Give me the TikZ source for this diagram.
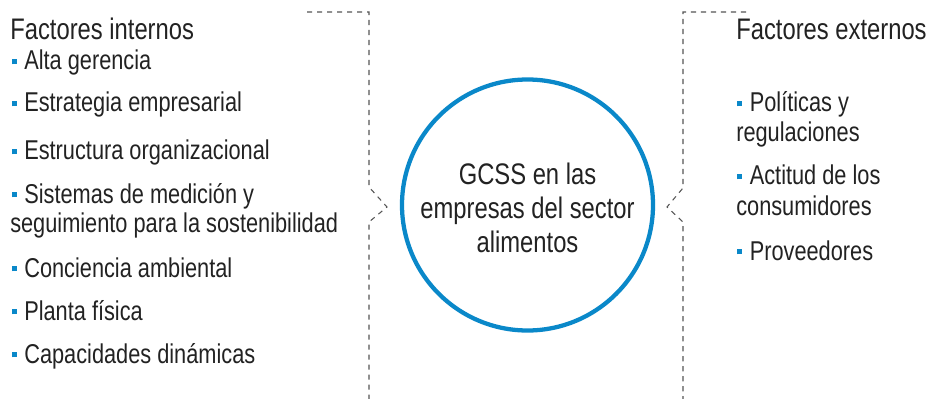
\documentclass[tikz,border=0pt]{standalone}
\usepackage{fontspec}
\setmainfont[FakeStretch=0.80]{Liberation Sans}
\definecolor{gcblue}{HTML}{0A88C9}
\definecolor{txt}{HTML}{222222}
\definecolor{dash}{HTML}{555555}
\newcommand\bul{{\color{gcblue}\rule[4.3pt]{3.9pt}{4.2pt}}\hspace{5.5pt}}
\begin{document}
\begin{tikzpicture}[x=0.75pt,y=-0.75pt,
  title/.style={anchor=base west,inner sep=0pt,text=txt,font=\fontsize{22.3pt}{26pt}\selectfont},
  item/.style={anchor=base west,inner sep=0pt,text=txt,font=\fontsize{20.4pt}{24pt}\selectfont},
  ctext/.style={anchor=base,inner sep=0pt,text=txt,font=\fontsize{22.3pt}{26pt}\selectfont},
  bracket/.style={draw=dash,line width=0.8pt,dash pattern=on 3.8pt off 3.7pt}]
\useasboundingbox (0,0) rectangle (931,399);
% circle
\node[circle,draw=gcblue,line width=3.2pt,minimum size=251*0.75pt,inner sep=0pt] (c) at (527.5,205) {};
\node[ctext] (c1) at (527.5,185) {GCSS en las};
\node[ctext] (c2) at (527.5,218) {empresas del sector};
\node[ctext] (c3) at (527.5,252) {alimentos};
% left texts
\node[title] (ti) at (10,40) {Factores internos};
\node[item] (i1) at (11.5,70) {\bul Alta gerencia};
\node[item] (i2) at (11.5,112) {\bul Estrategia empresarial};
\node[item] (i3) at (11.5,160) {\bul Estructura organizacional};
\node[item] (i4) at (11.5,203) {\bul Sistemas de medición y};
\node[item] (i4b) at (10,232) {seguimiento para la sostenibilidad};
\node[item] (i5) at (11.5,277) {\bul Conciencia ambiental};
\node[item] (i6) at (11.5,320) {\bul Planta física};
\node[item] (i7) at (11.5,363) {\bul Capacidades dinámicas};
% right texts
\node[title] (te) at (736,40) {Factores externos};
\node[item] (e1) at (737,112) {\bul Políticas y};
\node[item] (e1b) at (736,142) {regulaciones};
\node[item] (e2) at (737,185) {\bul Actitud de los};
\node[item] (e2b) at (736,215) {consumidores};
\node[item] (e3) at (737,260) {\bul Proveedores};
% brackets
\coordinate (la) at (307,12);
\coordinate (lb) at (369,12);
\coordinate (lc) at (369,187);
\coordinate (ld) at (387,207);
\coordinate (le) at (369,222);
\coordinate (lf) at (369,399);
\draw[bracket] (la) -- (lb) -- (lc) -- (ld) -- (le) -- (lf);
\coordinate (ra) at (746,12);
\coordinate (rb) at (683,12);
\coordinate (rc) at (683,188);
\coordinate (rd) at (667,207);
\coordinate (re) at (683,222);
\coordinate (rf) at (683,399);
\draw[bracket] (ra) -- (rb) -- (rc) -- (rd) -- (re) -- (rf);
\end{tikzpicture}
\end{document}
